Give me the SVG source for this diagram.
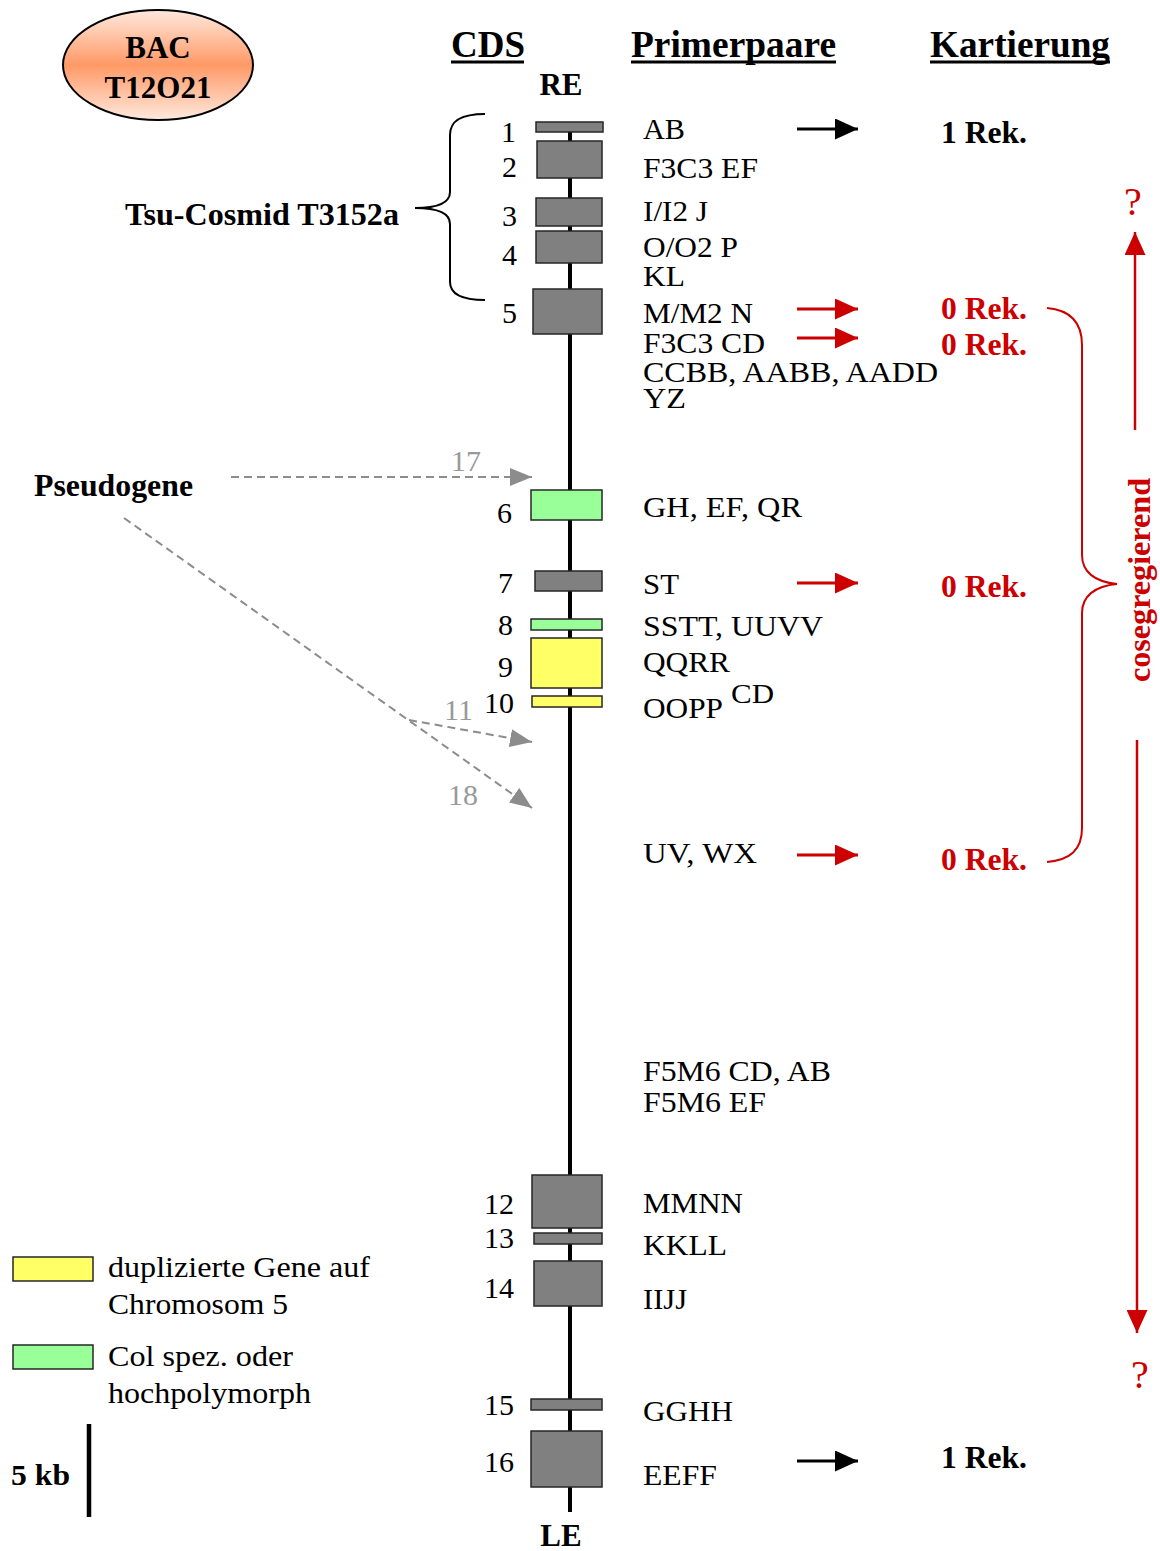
<svg xmlns="http://www.w3.org/2000/svg" width="1160" height="1551" viewBox="0 0 1160 1551">
<defs>
<linearGradient id="bacGrad" x1="0" y1="0" x2="0" y2="1">
<stop offset="0" stop-color="#FFE9DE"/>
<stop offset="0.5" stop-color="#FF9966"/>
<stop offset="1" stop-color="#FFE9DE"/>
</linearGradient>
<marker id="aBlack" markerUnits="userSpaceOnUse" markerWidth="23" markerHeight="21" refX="23" refY="10.5" orient="auto">
<path d="M0,0 L23,10.5 L0,21 Z" fill="#000"/>
</marker>
<marker id="aRed" markerUnits="userSpaceOnUse" markerWidth="23" markerHeight="21" refX="23" refY="10.5" orient="auto">
<path d="M0,0 L23,10.5 L0,21 Z" fill="#CC0000"/>
</marker>
<marker id="aGray" markerUnits="userSpaceOnUse" markerWidth="22" markerHeight="18" refX="22" refY="9" orient="auto">
<path d="M0,0 L22,9 L0,18 Z" fill="#8C8C8C"/>
</marker>
</defs>
<style>
.t{font-family:"Liberation Serif","Times New Roman",serif;font-size:30px;fill:#000}
.b{font-weight:bold}
.h{font-weight:bold;font-size:37px}
.red{fill:#CC0000}
.gt{fill:#999999}
.q{font-size:40px;fill:#CC0000}
.cds{fill:#808080;stroke:#262626;stroke-width:1.5}
.green{fill:#99FF99;stroke:#262626;stroke-width:1.5}
.yellow{fill:#FFFF66;stroke:#262626;stroke-width:1.5}
.ul{stroke:#000;stroke-width:3}
.arB{stroke:#000;stroke-width:3;fill:none;marker-end:url(#aBlack)}
.arR{stroke:#CC0000;stroke-width:3;fill:none;marker-end:url(#aRed)}
.vR{stroke:#CC0000;stroke-width:2.5;fill:none;marker-end:url(#aRed)}
.dash{stroke:#8C8C8C;stroke-width:2;stroke-dasharray:8,5;fill:none;marker-end:url(#aGray)}
.brace{fill:none;stroke:#000;stroke-width:2}
.braceR{fill:none;stroke:#CC0000;stroke-width:2}
</style>

<g id="bac">
<ellipse cx="158" cy="65" rx="95" ry="55" fill="url(#bacGrad)" stroke="#000" stroke-width="2"/>
<text class="t b" x="158" y="58" text-anchor="middle" style="font-size:31px">BAC</text>
<text class="t b" x="158" y="98" text-anchor="middle" style="font-size:31px">T12O21</text>
</g>

<g id="headings">
<text class="t h" x="451" y="57">CDS</text>
<line class="ul" x1="451" y1="62" x2="524" y2="62"/>
<text class="t h" x="631" y="57" textLength="205" lengthAdjust="spacingAndGlyphs">Primerpaare</text>
<line class="ul" x1="631" y1="62" x2="836" y2="62"/>
<text class="t h" x="930" y="57" textLength="180" lengthAdjust="spacingAndGlyphs">Kartierung</text>
<line class="ul" x1="930" y1="62" x2="1110" y2="62"/>
</g>

<g id="chromosome">
<line x1="570" y1="126" x2="570" y2="1512" stroke="#000" stroke-width="4"/>
<text class="t b" x="561" y="95" text-anchor="middle" style="font-size:31px">RE</text>
<text class="t b" x="561" y="1546" text-anchor="middle" style="font-size:31px">LE</text>
</g>

<g id="cds1"><rect class="cds" x="536" y="122" width="67" height="10"/><text class="t" x="516" y="142" text-anchor="end">1</text><text class="t" x="643" y="139" textLength="42" lengthAdjust="spacingAndGlyphs">AB</text></g>
<g id="cds2"><rect class="cds" x="537" y="141" width="65" height="37"/><text class="t" x="517" y="177" text-anchor="end">2</text><text class="t" x="643" y="178" textLength="115" lengthAdjust="spacingAndGlyphs">F3C3 EF</text></g>
<g id="cds3"><rect class="cds" x="536" y="198" width="66" height="28"/><text class="t" x="517" y="226" text-anchor="end">3</text><text class="t" x="643" y="221" textLength="65" lengthAdjust="spacingAndGlyphs">I/I2 J</text></g>
<g id="cds4"><rect class="cds" x="536" y="231" width="66" height="32"/><text class="t" x="517" y="265" text-anchor="end">4</text><text class="t" x="643" y="257" textLength="95" lengthAdjust="spacingAndGlyphs">O/O2 P</text><text class="t" x="643" y="286" textLength="42" lengthAdjust="spacingAndGlyphs">KL</text></g>
<g id="cds5"><rect class="cds" x="533" y="289" width="69" height="45"/><text class="t" x="517" y="323" text-anchor="end">5</text><text class="t" x="643" y="323" textLength="110" lengthAdjust="spacingAndGlyphs">M/M2 N</text><text class="t" x="643" y="353" textLength="122" lengthAdjust="spacingAndGlyphs">F3C3 CD</text><text class="t" x="643" y="382" textLength="295" lengthAdjust="spacingAndGlyphs">CCBB, AABB, AADD</text><text class="t" x="643" y="408" textLength="43" lengthAdjust="spacingAndGlyphs">YZ</text></g>
<g id="cds6"><rect class="green" x="531" y="490" width="71" height="30"/><text class="t" x="512" y="523" text-anchor="end">6</text><text class="t" x="643" y="517" textLength="159" lengthAdjust="spacingAndGlyphs">GH, EF, QR</text></g>
<g id="cds7"><rect class="cds" x="535" y="571" width="67" height="20"/><text class="t" x="513" y="593" text-anchor="end">7</text><text class="t" x="643" y="594" textLength="36" lengthAdjust="spacingAndGlyphs">ST</text></g>
<g id="cds8"><rect class="green" x="531" y="619" width="71" height="11"/><text class="t" x="513" y="635" text-anchor="end">8</text><text class="t" x="643" y="636" textLength="180" lengthAdjust="spacingAndGlyphs">SSTT, UUVV</text></g>
<g id="cds9"><rect class="yellow" x="531" y="638" width="71" height="50"/><text class="t" x="513" y="677" text-anchor="end">9</text><text class="t" x="643" y="672" textLength="87" lengthAdjust="spacingAndGlyphs">QQRR</text></g>
<g id="cds10"><rect class="yellow" x="532" y="696" width="70" height="11"/><text class="t" x="514" y="713" text-anchor="end">10</text><text class="t" x="643" y="718" textLength="80" lengthAdjust="spacingAndGlyphs">OOPP</text><text class="t" x="731" y="703" style="font-size:28px" textLength="43" lengthAdjust="spacingAndGlyphs">CD</text></g>
<g id="primer-uvwx"><text class="t" x="643" y="863" textLength="114" lengthAdjust="spacingAndGlyphs">UV, WX</text></g>
<g id="primer-f5m6"><text class="t" x="643" y="1081" textLength="188" lengthAdjust="spacingAndGlyphs">F5M6 CD, AB</text><text class="t" x="643" y="1112" textLength="123" lengthAdjust="spacingAndGlyphs">F5M6 EF</text></g>
<g id="cds12"><rect class="cds" x="532" y="1175" width="70" height="53"/><text class="t" x="514" y="1214" text-anchor="end">12</text><text class="t" x="643" y="1213" textLength="100" lengthAdjust="spacingAndGlyphs">MMNN</text></g>
<g id="cds13"><rect class="cds" x="534" y="1233" width="68" height="11"/><text class="t" x="514" y="1248" text-anchor="end">13</text><text class="t" x="643" y="1255" textLength="84" lengthAdjust="spacingAndGlyphs">KKLL</text></g>
<g id="cds14"><rect class="cds" x="534" y="1261" width="68" height="45"/><text class="t" x="514" y="1298" text-anchor="end">14</text><text class="t" x="643" y="1309" textLength="44" lengthAdjust="spacingAndGlyphs">IIJJ</text></g>
<g id="cds15"><rect class="cds" x="531" y="1399" width="71" height="11"/><text class="t" x="514" y="1415" text-anchor="end">15</text><text class="t" x="643" y="1421" textLength="90" lengthAdjust="spacingAndGlyphs">GGHH</text></g>
<g id="cds16"><rect class="cds" x="531" y="1431" width="71" height="56"/><text class="t" x="514" y="1472" text-anchor="end">16</text><text class="t" x="643" y="1485" textLength="74" lengthAdjust="spacingAndGlyphs">EEFF</text></g>

<g id="mapping">
<text class="t b" x="941" y="143" style="font-size:31px" textLength="86" lengthAdjust="spacingAndGlyphs">1 Rek.</text>
<text class="t b red" x="941" y="319" style="font-size:31px" textLength="86" lengthAdjust="spacingAndGlyphs">0 Rek.</text>
<text class="t b red" x="941" y="355" style="font-size:31px" textLength="86" lengthAdjust="spacingAndGlyphs">0 Rek.</text>
<text class="t b red" x="941" y="597" style="font-size:31px" textLength="86" lengthAdjust="spacingAndGlyphs">0 Rek.</text>
<text class="t b red" x="941" y="870" style="font-size:31px" textLength="86" lengthAdjust="spacingAndGlyphs">0 Rek.</text>
<text class="t b" x="941" y="1468" style="font-size:31px" textLength="86" lengthAdjust="spacingAndGlyphs">1 Rek.</text>
</g>

<g id="cosmid-label"><text class="t b" x="125" y="225" style="font-size:30.5px" textLength="274" lengthAdjust="spacingAndGlyphs">Tsu-Cosmid T3152a</text></g>
<g id="pseudogene-label">
<text class="t b" x="34" y="496" style="font-size:31px" textLength="159" lengthAdjust="spacingAndGlyphs">Pseudogene</text>
<text class="t gt" x="451" y="471">17</text>
<text class="t gt" x="444" y="720">11</text>
<text class="t gt" x="448" y="805">18</text>
</g>

<g id="cosegregation">
<text class="t b red" transform="translate(1150,580) rotate(-90)" text-anchor="middle" style="font-size:31px" textLength="204" lengthAdjust="spacingAndGlyphs">cosegregierend</text>
<text class="t q" x="1133" y="215" text-anchor="middle">?</text>
<text class="t q" x="1140" y="1388" text-anchor="middle">?</text>
</g>

<g id="legend">
<rect class="yellow" x="13" y="1257" width="80" height="24"/>
<text class="t" x="108" y="1277" textLength="262" lengthAdjust="spacingAndGlyphs">duplizierte Gene auf</text>
<text class="t" x="108" y="1314" textLength="180" lengthAdjust="spacingAndGlyphs">Chromosom 5</text>
<rect class="green" x="13" y="1345" width="80" height="24"/>
<text class="t" x="108" y="1366" textLength="185" lengthAdjust="spacingAndGlyphs">Col spez. oder</text>
<text class="t" x="108" y="1403" textLength="203" lengthAdjust="spacingAndGlyphs">hochpolymorph</text>
<line x1="89" y1="1424" x2="89" y2="1517" stroke="#000" stroke-width="4.5"/>
<text class="t b" x="11" y="1485" style="font-size:30px" textLength="59" lengthAdjust="spacingAndGlyphs">5 kb</text>
</g>

<g id="connectors">
<path class="brace" d="M485,114 C462,114 450,120 450,135 L450,192 C450,202 440,208 415,208 C440,208 450,214 450,224 L450,282 C450,294 462,300 485,300"/>
<path class="braceR" d="M1047,308 C1070,310 1082,322 1082,345 L1082,555 C1082,572 1095,582 1117,584 C1095,586 1082,596 1082,613 L1082,828 C1082,850 1070,860 1047,862"/>
<line class="arB" x1="797" y1="129" x2="858" y2="129"/>
<line class="arR" x1="797" y1="309" x2="858" y2="309"/>
<line class="arR" x1="797" y1="338" x2="858" y2="338"/>
<line class="arR" x1="797" y1="583" x2="858" y2="583"/>
<line class="arR" x1="797" y1="855" x2="858" y2="855"/>
<line class="arB" x1="797" y1="1461" x2="858" y2="1461"/>
<line class="vR" x1="1135" y1="430" x2="1135" y2="232"/>
<line class="vR" x1="1137" y1="740" x2="1137" y2="1333"/>
<line class="dash" x1="231" y1="477" x2="532" y2="477"/>
<line class="dash" x1="124" y1="518" x2="532" y2="808"/>
<line class="dash" x1="409" y1="720" x2="532" y2="742"/>
</g>
</svg>
